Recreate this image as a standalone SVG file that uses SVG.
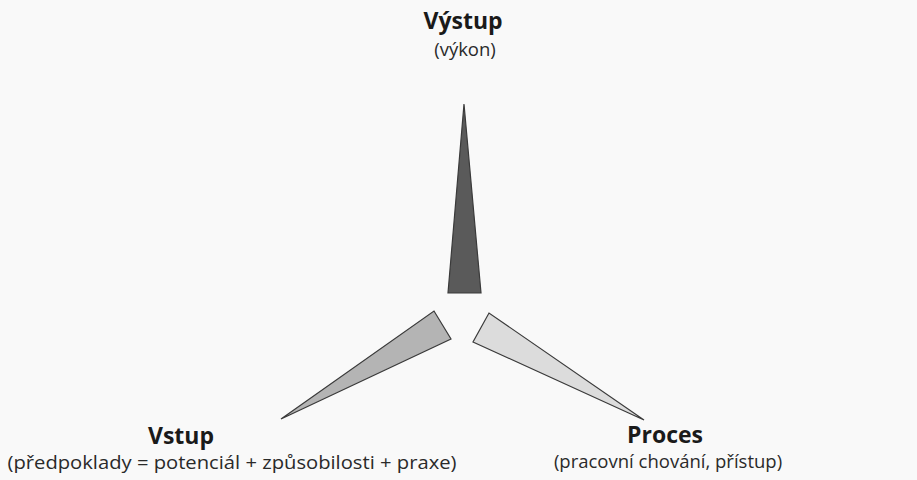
<svg xmlns="http://www.w3.org/2000/svg" width="917" height="480" viewBox="0 0 917 480">
  <style>
    .title { font-family: "Open Sans", "Noto Sans", "DejaVu Sans", sans-serif; font-weight: bold; font-size: 23px; fill: #1a1a1a; text-anchor: middle; }
    .sub { font-family: "Open Sans", "Noto Sans", "DejaVu Sans", sans-serif; font-size: 18.5px; fill: #2a2a2a; text-anchor: middle; }
    .spike { stroke: #3a3a3a; stroke-width: 1.2; stroke-linejoin: miter; }
  </style>
  <rect width="917" height="480" fill="#f9f9f9"/>
  <g id="connectors">
    <polygon id="spike-output" class="spike" fill="#5a5a5a" points="464,104 481,293 448,293"/>
    <polygon id="spike-input" class="spike" fill="#b4b4b4" points="281,419 434,311 451,339"/>
    <polygon id="spike-process" class="spike" fill="#dcdcdc" points="644,420 489,313 473,342"/>
  </g>
  <g id="node-vystup">
    <text class="title" x="463" y="29">Výstup</text>
    <text class="sub" x="465" y="56">(výkon)</text>
  </g>
  <g id="node-vstup">
    <text class="title" x="181" y="444">Vstup</text>
    <text class="sub" x="232" y="469" textLength="449" lengthAdjust="spacingAndGlyphs">(předpoklady = potenciál + způsobilosti + praxe)</text>
  </g>
  <g id="node-proces">
    <text class="title" x="665" y="443">Proces</text>
    <text class="sub" x="668" y="468">(pracovní chování, přístup)</text>
  </g>
</svg>
